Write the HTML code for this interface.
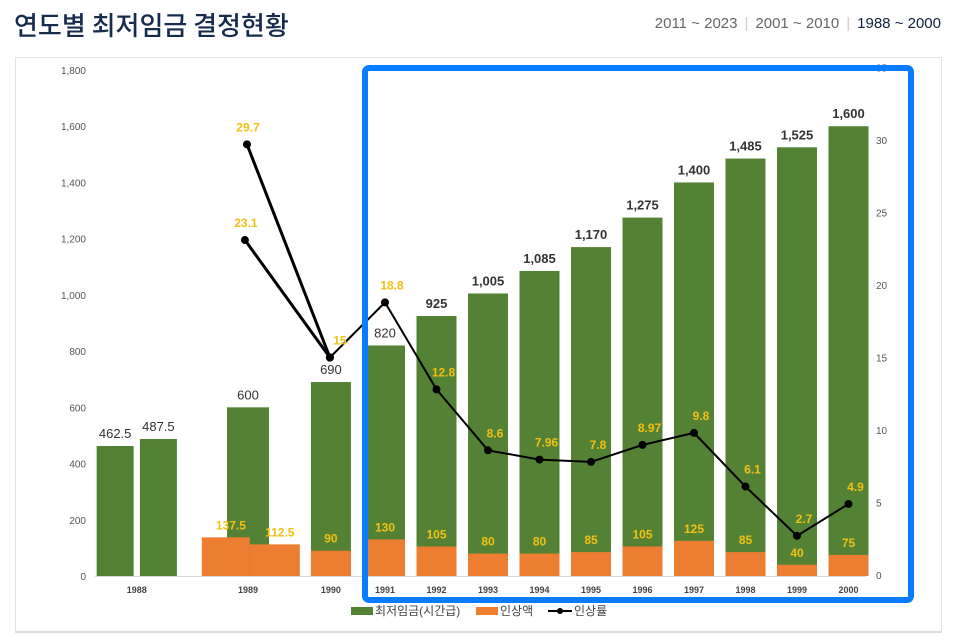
<!DOCTYPE html>
<html><head><meta charset="utf-8">
<style>
body{margin:0;width:969px;height:642px;background:#fff;overflow:hidden;font-family:"Liberation Sans","Noto Sans CJK KR",sans-serif;position:relative}
#title{position:absolute;left:14px;top:6px;font-size:26px;color:#172b4d;font-family:"Noto Sans CJK KR","Liberation Sans",sans-serif;font-weight:500;margin:0}
#nav{position:absolute;right:28px;top:15px;font-size:15px;color:#666}
#nav span{cursor:pointer}
#nav .sep{color:#ccc;margin:0 7px}
#nav .on{color:#0f1f3d}
#panel{position:absolute;left:15px;top:57px;width:925px;height:573px;border:1px solid #e3e3e3;border-bottom:2px solid #ddd}
svg{position:absolute;left:0;top:0}
</style></head><body>
<h1 id="title">연도별 최저임금 결정현황</h1>
<div id="nav"><span>2011 ~ 2023</span><span class="sep">|</span><span>2001 ~ 2010</span><span class="sep">|</span><span class="on">1988 ~ 2000</span></div>
<div id="panel"></div>
<svg id="chart" width="969" height="642"></svg>
<script>
// data
const categories=["1988","1989","1990","1991","1992","1993","1994","1995","1996","1997","1998","1999","2000"];
const catSlots=[-4.82,-2.66,-1.05,0,1,2,3,4,5,6,7,8,9];
const wageValues=[462.5,487.5,600,690,820,925,1005,1085,1170,1275,1400,1485,1525,1600];
const wageSlots=[-5.24,-4.40,-2.66,-1.05,0,1,2,3,4,5,6,7,8,9];
const raiseValues=[137.5,112.5,90,130,105,80,80,85,105,125,85,40,75];
const raiseSlots=[-3.09,-2.14,-1.05,0,1,2,3,4,5,6,7,8,9];
const rateValuesA=[29.7,15];
const rateSlotsA=[-2.68,-1.07];
const rateValuesB=[23.1,15,18.8,12.8,8.6,7.96,7.8,8.97,9.8,6.1,2.7,4.9];
const rateSlotsB=[-2.72,-1.07,0,1,2,3,4,5,6,7,8,9];
const leftTicks=[0,200,400,600,800,1000,1200,1400,1600,1800];
const rightTicks=[0,5,10,15,20,25,30,35];

const NS="http://www.w3.org/2000/svg",svg=document.getElementById('chart');
const X=s=>385+s*51.5, Y=v=>576-v*506/1800, R=v=>575-v*14.5;
function mk(t,a,p){const e=document.createElementNS(NS,t);for(const k in a)e.setAttribute(k,a[k]);(p||svg).appendChild(e);return e;}
const fmt=v=>v>=1000?v.toLocaleString('en-US'):String(v);

leftTicks.forEach(t=>{const e=mk('text',{x:86,y:Y(t)+4,'text-anchor':'end','font-size':10,fill:'#555'});e.textContent=fmt(t);

});
rightTicks.forEach(t=>{const e=mk('text',{x:876,y:R(t)+4,'font-size':10,fill:'#555'});e.textContent=t;

});
mk('line',{x1:95,x2:866,y1:576.5,y2:576.5,stroke:'#d9d9d9'});
categories.forEach((c,i)=>{const e=mk('text',{x:X(catSlots[i]),y:593,'text-anchor':'middle','font-size':9,'font-weight':'bold',fill:'#444'});e.textContent=c;

});

wageValues.forEach((v,i)=>{const w=i<2?37:(i==2?42:40),x=X(wageSlots[i]);
const r=mk('rect',{x:x-w/2,y:Y(v),width:w,height:576-Y(v),fill:'#548235'});


const t=mk('text',{x:x,y:Y(v)-8,'text-anchor':'middle','font-size':13,fill:'#333','font-weight':i>=5?'bold':'normal'});t.textContent=fmt(v);

});
raiseValues.forEach((v,i)=>{const w=i==0?48:(i==1?50:40),x=X(raiseSlots[i]);
const r=mk('rect',{x:x-w/2,y:Y(v),width:w,height:576-Y(v),fill:'#ed7d31'});


const t=mk('text',{x:x+(i<2?5:0),y:Y(v)-8,'text-anchor':'middle','font-size':12,'font-weight':'bold',fill:'#f2c012'});t.textContent=v;

});

function line(vals,slots,nm,sw){const pts=vals.map((v,i)=>X(slots[i])+','+R(v)).join(' ');
const p=mk('polyline',{points:pts,fill:'none',stroke:'#000','stroke-width':sw});


vals.forEach((v,i)=>{const c=mk('circle',{cx:X(slots[i]),cy:R(v),r:4,fill:'#000'});

});}
line(rateValuesA,rateSlotsA,'rate-line-a',3);
line(rateValuesB.slice(0,2),rateSlotsB.slice(0,2),'rate-line-b1',3);
line(rateValuesB.slice(1),rateSlotsB.slice(1),'rate-line-b',2);
rateValuesA.slice(0,1).concat(rateValuesB).forEach((v,i)=>{const s=i==0?rateSlotsA[0]:rateSlotsB[i-1];
const t=mk('text',{x:X(s)+(i<=2?1:7),y:R(v)-13,'text-anchor':'middle','font-size':12,'font-weight':'bold',fill:'#f2c012'});t.textContent=v;
if(i==2)t.setAttribute('x',X(s)+10);

});

const hl=mk('rect',{x:365,y:68,width:546,height:532,rx:4,fill:'none',stroke:'#0a7cff','stroke-width':6});



const lg=mk('g',{});


mk('rect',{x:351,y:607,width:22,height:8,fill:'#548235'},lg);
let t=mk('text',{x:375,y:615,'font-size':12,fill:'#444'},lg);t.textContent='최저임금(시간급)';
mk('rect',{x:476,y:607,width:22,height:8,fill:'#ed7d31'},lg);
t=mk('text',{x:500,y:615,'font-size':12,fill:'#444'},lg);t.textContent='인상액';
mk('line',{x1:548,x2:572,y1:611,y2:611,stroke:'#000','stroke-width':2},lg);
mk('circle',{cx:560,cy:611,r:3,fill:'#000'},lg);
t=mk('text',{x:574,y:615,'font-size':12,fill:'#444'},lg);t.textContent='인상률';
</script>
</body></html>
